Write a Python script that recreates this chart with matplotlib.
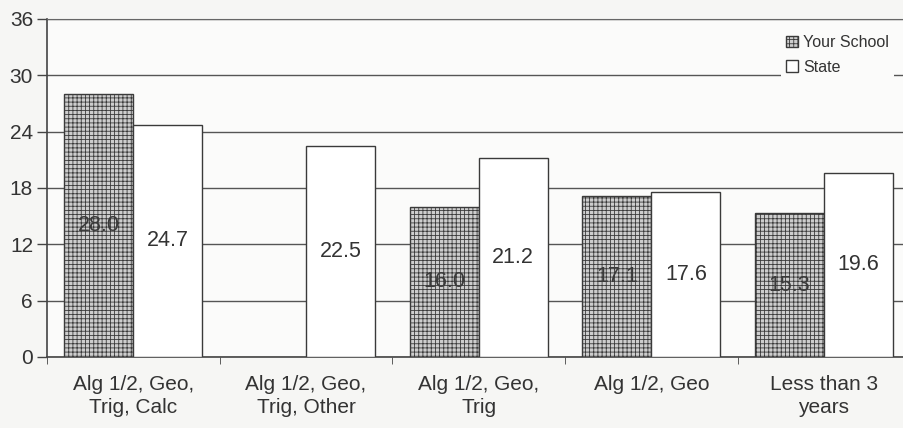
import numpy as np
from matplotlib import pyplot as plt

plt.rcParams['font.family'] = ['Liberation Sans', 'DejaVu Sans']
plt.rcParams['hatch.color'] = '#8c8c8c'
plt.rcParams['hatch.linewidth'] = 0.6

categories = ['Alg 1/2, Geo,\nTrig, Calc', 'Alg 1/2, Geo,\nTrig, Other',
              'Alg 1/2, Geo,\nTrig', 'Alg 1/2, Geo', 'Less than 3\nyears']
school = [28.0, None, 16.0, 17.1, 15.3]
state = [24.7, 22.5, 21.2, 17.6, 19.6]
yticks = [0, 6, 12, 18, 24, 30, 36]

fig = plt.figure(figsize=(9.04, 4.28), dpi=100, facecolor='#f6f6f4')
ax = fig.add_axes([0.052, 0.166, 0.955, 0.79])
ax.set_facecolor('#fbfbfa')

x = np.arange(len(categories))
w = 0.4
sx = [xi - w / 2 for xi, v in zip(x, school) if v is not None]
sv = [v for v in school if v is not None]
ax.bar(sx, sv, w, facecolor='#cdcdcd', edgecolor='#3a3a3a',
       hatch='++++', linewidth=1.0, label='Your School', zorder=3)
ax.bar(x + w / 2, state, w, facecolor='white', edgecolor='#3a3a3a',
       linewidth=1.0, label='State', zorder=3)

for xi, v in zip(sx, sv):
    ax.text(xi, v / 2, '%.1f' % v, ha='center', va='center', fontsize=15.5,
            color='#3a3a3a', zorder=4)
for xi, v in zip(x + w / 2, state):
    ax.text(xi, v / 2, '%.1f' % v, ha='center', va='center', fontsize=15.5,
            color='#333333', zorder=4)

ax.set_ylim(0, 36)
ax.set_xlim(-0.5, 4.5)
ax.set_yticks(yticks)
ax.tick_params(axis='y', labelsize=15, length=7, width=1, color='#444444',
               labelcolor='#333333', pad=3)
ax.set_xticks(x)
ax.set_xticklabels(categories, fontsize=15, color='#333333', linespacing=1.25)
ax.tick_params(axis='x', length=0, pad=13)
ax.set_xticks(np.arange(-0.5, 5, 1), minor=True)
ax.tick_params(axis='x', which='minor', length=5, color='#444444')

ax.yaxis.grid(True, color='#555555', linewidth=1.0, zorder=0)
ax.set_axisbelow(True)
for s in ['left', 'bottom']:
    ax.spines[s].set_color('#444444')
    ax.spines[s].set_linewidth(1.2)
ax.spines['top'].set_color('#666666')
ax.spines['top'].set_linestyle((0, (1, 1)))
ax.spines['right'].set_visible(False)

leg = ax.legend(loc='upper right', bbox_to_anchor=(0.99, 0.99), fontsize=11.5,
                frameon=True, facecolor='#fbfbfa', edgecolor='none', framealpha=1,
                handlelength=0.75, handleheight=0.75, handletextpad=0.3,
                labelspacing=0.6, borderpad=0.3)
leg.get_frame().set_linewidth(0)
for t in leg.get_texts():
    t.set_color('#333333')

fig.savefig('out.png', dpi=100, facecolor=fig.get_facecolor())
